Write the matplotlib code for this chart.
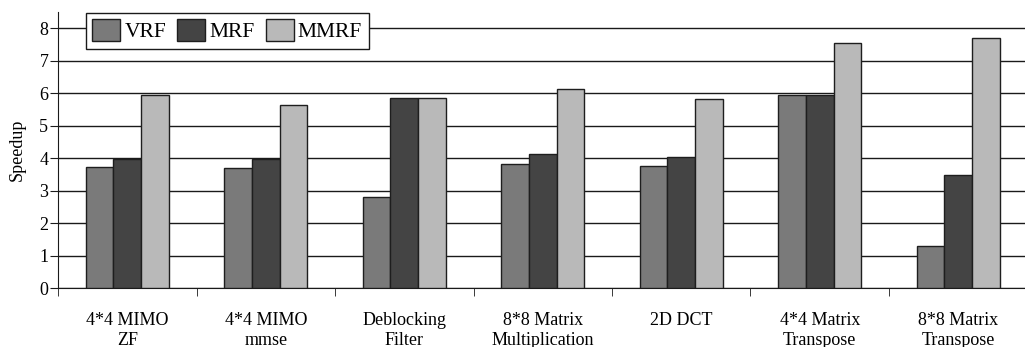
import matplotlib
matplotlib.use("Agg")
import matplotlib.pyplot as plt
import numpy as np

categories = ["4*4 MIMO\nZF", "4*4 MIMO\nmmse", "Deblocking\nFilter", "8*8 Matrix\nMultiplication",
              "2D DCT", "4*4 Matrix\nTranspose", "8*8 Matrix\nTranspose"]
vrf = [3.72, 3.69, 2.80, 3.82, 3.75, 5.94, 1.29]
mrf = [3.97, 3.97, 5.85, 4.12, 4.03, 5.94, 3.48]
mmrf = [5.94, 5.63, 5.85, 6.12, 5.82, 7.54, 7.69]
series = [("VRF", vrf, "#7a7a7a"), ("MRF", mrf, "#444444"), ("MMRF", mmrf, "#b9b9b9")]

plt.rcParams['font.family'] = ['Liberation Serif', 'DejaVu Serif']

fig = plt.figure(figsize=(10.25, 3.47), dpi=100)
ax = fig.add_axes([0.0566, 0.170, 0.9434, 0.795])

x = np.arange(len(categories))
w = 0.2
for i, (name, vals, col) in enumerate(series):
    ax.bar(x + (i - 1) * w, vals, width=w, color=col, edgecolor="#1e1e1e", linewidth=1.0,
           label=name, zorder=3)

ax.set_xlim(-0.5, 6.482)
ax.set_ylim(0, 8.5)
ax.set_yticks(range(0, 9))
ax.yaxis.grid(True, color="#1a1a1a", linewidth=1.0, zorder=0)
ax.set_axisbelow(True)
for s in ["top", "right"]:
    ax.spines[s].set_visible(False)
ax.spines["left"].set_color("#1a1a1a")
ax.spines["bottom"].set_color("#1a1a1a")

ax.set_xticks(x)
ax.set_xticklabels(categories, fontsize=13, linespacing=1.25)
ax.tick_params(axis="x", which="major", length=0, pad=17)
ax.set_xticks(np.arange(-0.5, 6.5, 1.0), minor=True)
ax.tick_params(axis="x", which="minor", length=6, direction="out", color="#1a1a1a")
ax.tick_params(axis="y", length=6, direction="out", labelsize=13, pad=1, color="#1a1a1a")
ax.set_ylabel("Speedup", fontsize=13, labelpad=10)

leg = ax.legend(loc="upper left", bbox_to_anchor=(0.0289, 0.998), ncol=3, fontsize=15.5,
                frameon=True, fancybox=False, edgecolor="#1a1a1a", framealpha=1,
                handlelength=1.3, handleheight=1.2, columnspacing=0.5, handletextpad=0.2,
                borderpad=0.3, borderaxespad=0.0)
leg.get_frame().set_linewidth(1.0)

fig.savefig("out.png", dpi=100)
